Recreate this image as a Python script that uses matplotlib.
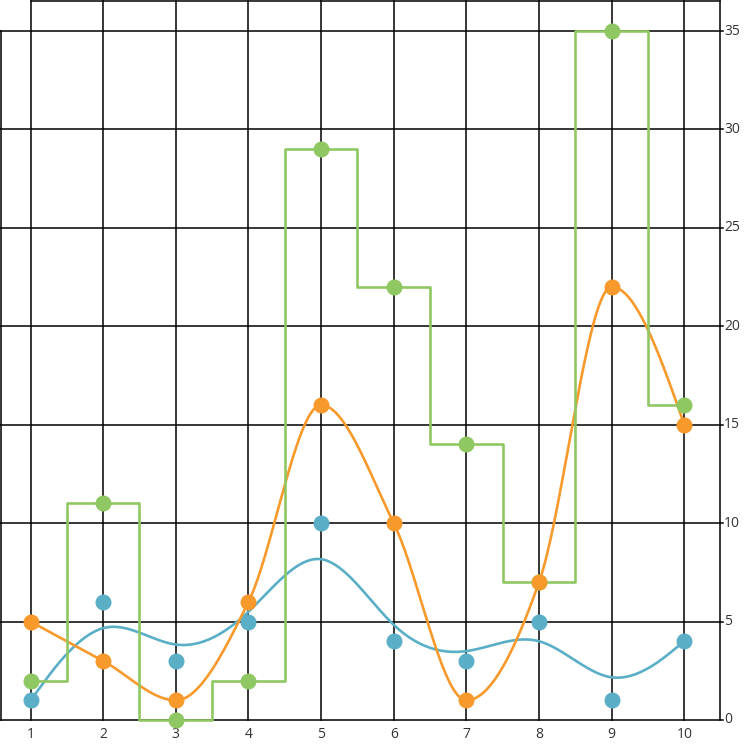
import numpy as np
import matplotlib
matplotlib.use("Agg")
import matplotlib.pyplot as plt

# data
x = [1, 2, 3, 4, 5, 6, 7, 8, 9, 10]
blue = [1, 6, 3, 5, 10, 4, 3, 5, 1, 4]       # basis-smoothed line
orange = [5, 3, 1, 6, 16, 10, 1, 7, 22, 15]  # monotone line
green = [2, 11, 0, 2, 29, 22, 14, 7, 35, 16] # step (mid)
yticks = [0, 5, 10, 15, 20, 25, 30, 35]

c_blue = "#5aafc7"
c_orange = "#f7992b"
c_green = "#8fc862"


def basis_curve(xs, ys, n=40):
    # uniform cubic b-spline with tripled end points (like d3 curveBasis)
    px = np.r_[[xs[0]] * 2, xs, [xs[-1]] * 2].astype(float)
    py = np.r_[[ys[0]] * 2, ys, [ys[-1]] * 2].astype(float)
    t = np.linspace(0, 1, n)
    b0 = (1 - t) ** 3 / 6
    b1 = (3 * t ** 3 - 6 * t ** 2 + 4) / 6
    b2 = (-3 * t ** 3 + 3 * t ** 2 + 3 * t + 1) / 6
    b3 = t ** 3 / 6
    ox, oy = [], []
    for i in range(len(px) - 3):
        ox.append(b0 * px[i] + b1 * px[i + 1] + b2 * px[i + 2] + b3 * px[i + 3])
        oy.append(b0 * py[i] + b1 * py[i + 1] + b2 * py[i + 2] + b3 * py[i + 3])
    return np.concatenate(ox), np.concatenate(oy)


def monotone_curve(xs, ys, n=40):
    xs = np.asarray(xs, float)
    ys = np.asarray(ys, float)
    h = np.diff(xs)
    s = np.diff(ys) / h
    m = np.zeros(len(xs))
    for i in range(1, len(xs) - 1):
        p = (s[i - 1] * h[i] + s[i] * h[i - 1]) / (h[i - 1] + h[i])
        m[i] = (np.sign(s[i - 1]) + np.sign(s[i])) * min(abs(s[i - 1]), abs(s[i]), 0.5 * abs(p))
    m[0] = (3 * s[0] - m[1]) / 2
    m[-1] = (3 * s[-1] - m[-2]) / 2
    ox, oy = [], []
    t = np.linspace(0, 1, n)
    for i in range(len(xs) - 1):
        h00 = 2 * t ** 3 - 3 * t ** 2 + 1
        h10 = t ** 3 - 2 * t ** 2 + t
        h01 = -2 * t ** 3 + 3 * t ** 2
        h11 = t ** 3 - t ** 2
        ox.append(xs[i] + t * h[i])
        oy.append(h00 * ys[i] + h10 * h[i] * m[i] + h01 * ys[i + 1] + h11 * h[i] * m[i + 1])
    return np.concatenate(ox), np.concatenate(oy)


fig = plt.figure(figsize=(7.49, 7.52), dpi=100)
ax = fig.add_axes([0, 0, 1, 1])
ax.set_xlim(0.580, 10.890)
ax.set_ylim(-1.626, 36.575)
ax.axis("off")

x_left, x_right, y_top = 0.594, 10.491, 36.52
lw_grid = 1.1
for xi in x:
    ax.plot([xi, xi], [0, y_top], color="black", lw=lw_grid, zorder=1)
ax.plot([x_left, x_left], [0, 35], color="black", lw=lw_grid, zorder=1)
ax.plot([x_right, x_right], [0, y_top], color="black", lw=lw_grid, zorder=1)
for yv in yticks:
    ax.plot([x_left - 0.02, x_right + 0.04], [yv, yv], color="black", lw=lw_grid, zorder=1)
    ax.text(10.546, yv, str(yv), ha="left", va="center", fontsize=10,
            color="#333333", family="Open Sans")
ax.plot([1, x_right], [y_top, y_top], color="black", lw=lw_grid, zorder=1)
for xi in x:
    ax.text(xi, -0.35, str(xi), ha="center", va="top", fontsize=10,
            color="#333333", family="Open Sans")

bx, by = basis_curve(x, blue)
ax.plot(bx, by, color=c_blue, lw=1.9, zorder=3)
ox, oy = monotone_curve(x, orange)
ax.plot(ox, oy, color=c_orange, lw=1.9, zorder=3)
ax.step(x, green, where="mid", color=c_green, lw=1.9, zorder=3)

ax.plot(x, green, "o", color=c_green, ms=10.5, zorder=4)
ax.plot(x, blue, "o", color=c_blue, ms=10.5, zorder=4)
ax.plot(x, orange, "o", color=c_orange, ms=10.5, zorder=4)

fig.savefig("out.png", dpi=100)
